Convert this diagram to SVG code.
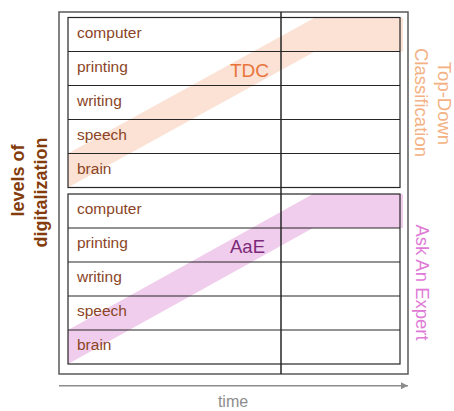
<svg xmlns="http://www.w3.org/2000/svg" width="454" height="411" viewBox="0 0 454 411">
  <defs>
    <style>
      .frame { fill: #ffffff; stroke: #5a5a5a; stroke-width: 1.5; }
      .tbl-bg { fill: #ffffff; stroke: none; }
      .tbl { fill: none; stroke: #262626; stroke-width: 1.2; }
      .row { stroke: #262626; stroke-width: 1.2; }
      .lbl { font-family: "Liberation Sans", Arial, sans-serif; font-size: 15.5px; fill: #8a4526; }
      .side { font-family: "Liberation Sans", Arial, sans-serif; font-size: 18.5px; }
      .band-tdc { fill: #fbe2d5; }
      .band-aae { fill: #f0cdec; }
    </style>
    <marker id="arrow" viewBox="0 0 10 10" refX="10" refY="5" markerWidth="7" markerHeight="7" markerUnits="userSpaceOnUse" orient="auto">
      <path d="M0,0 L10,5 L0,10 z" fill="#8c8c8c"/>
    </marker>
  </defs>

  <g id="frame">
    <rect class="frame" x="59" y="12" width="349" height="362"/>
  </g>

  <g id="table-tdc">
    <rect class="tbl-bg" x="68" y="17.5" width="332" height="170"/>
    <polygon class="band-tdc" points="68,187.5 68,153.5 315,17.5 403,17.5 403,51.5 315,51.5"/>
    <rect class="tbl" x="68" y="17.5" width="332" height="170"/>
    <line class="row" x1="68" y1="51.5" x2="400" y2="51.5"/>
    <line class="row" x1="68" y1="85.5" x2="400" y2="85.5"/>
    <line class="row" x1="68" y1="119.5" x2="400" y2="119.5"/>
    <line class="row" x1="68" y1="153.5" x2="400" y2="153.5"/>
    <text class="lbl" x="77" y="37.5">computer</text>
    <text class="lbl" x="77" y="71.5">printing</text>
    <text class="lbl" x="77" y="105.5">writing</text>
    <text class="lbl" x="77" y="139.5">speech</text>
    <text class="lbl" x="77" y="173.5">brain</text>
    <text x="230" y="77" font-family="Liberation Sans, Arial, sans-serif" font-size="19" fill="#e9743a">TDC</text>
  </g>

  <g id="table-aae">
    <rect class="tbl-bg" x="68" y="194" width="332" height="170"/>
    <polygon class="band-aae" points="68,364 68,330 313,194 403,194 403,228 313,228"/>
    <rect class="tbl" x="68" y="194" width="332" height="170"/>
    <line class="row" x1="68" y1="228" x2="400" y2="228"/>
    <line class="row" x1="68" y1="262" x2="400" y2="262"/>
    <line class="row" x1="68" y1="296" x2="400" y2="296"/>
    <line class="row" x1="68" y1="330" x2="400" y2="330"/>
    <text class="lbl" x="77" y="213.5">computer</text>
    <text class="lbl" x="77" y="247.5">printing</text>
    <text class="lbl" x="77" y="281.5">writing</text>
    <text class="lbl" x="77" y="315.5">speech</text>
    <text class="lbl" x="77" y="349.5">brain</text>
    <text x="230" y="253" font-family="Liberation Sans, Arial, sans-serif" font-size="18.5" fill="#7b2a7a">AaE</text>
  </g>

  <g id="connectors">
    <line x1="281" y1="12" x2="281" y2="374" stroke="#262626" stroke-width="1.5"/>
    <line x1="59" y1="385.7" x2="408" y2="385.7" stroke="#8c8c8c" stroke-width="1.5" marker-end="url(#arrow)"/>
  </g>

  <g id="axis-y">
    <text transform="translate(24,180.5) rotate(-90)" text-anchor="middle" font-family="Liberation Sans, Arial, sans-serif" font-size="18" font-weight="bold" fill="#843c0c">levels of</text>
    <text transform="translate(46.5,192.5) rotate(-90)" text-anchor="middle" font-family="Liberation Sans, Arial, sans-serif" font-size="18" font-weight="bold" fill="#843c0c">digitalization</text>
  </g>

  <g id="axis-x">
    <text x="233" y="407" text-anchor="middle" font-family="Liberation Sans, Arial, sans-serif" font-size="16" fill="#8c8c8c">time</text>
  </g>

  <g id="label-tdc">
    <text class="side" transform="translate(437.5,103.5) rotate(90)" text-anchor="middle" fill="#f4b183">Top-Down</text>
    <text class="side" transform="translate(414.5,102.5) rotate(90)" text-anchor="middle" fill="#f4b183">Classification</text>
  </g>

  <g id="label-aae">
    <text class="side" transform="translate(416,282.5) rotate(90)" text-anchor="middle" fill="#e07ad6">Ask An Expert</text>
  </g>
</svg>
